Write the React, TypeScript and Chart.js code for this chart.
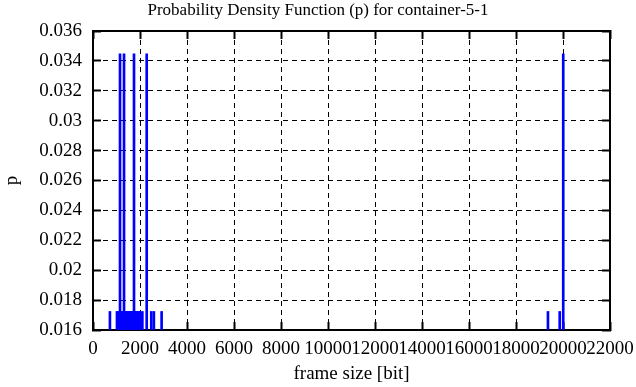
import { useEffect, useRef } from 'react';
import { Chart, registerables } from 'chart.js';

Chart.register(...registerables);

const titleText = 'Probability Density Function (p) for container-5-1';
const xAxisTitle = 'frame size [bit]';
const yAxisTitle = 'p';

const xTicks = [0, 2000, 4000, 6000, 8000, 10000, 12000, 14000, 16000, 18000, 20000, 22000];
const xTickLabels = ['0', '2000', '4000', '6000', '8000', '10000', '12000', '14000', '16000', '18000', '20000', '22000'];
const yTicks = [0.016, 0.018, 0.02, 0.022, 0.024, 0.026, 0.028, 0.03, 0.032, 0.034, 0.036];
const yTickLabels = ['0.016', '0.018', '0.02', '0.022', '0.024', '0.026', '0.028', '0.03', '0.032', '0.034', '0.036'];

// frame sizes (bit) and their probability density values (impulses)
const frameSizes = [
  720, 1020, 1060, 1100, 1150, 1180, 1220, 1260, 1320, 1360, 1400, 1440, 1480, 1520, 1560,
  1600, 1640, 1680, 1745, 1780, 1820, 1860, 1900, 1950, 1985, 2100, 2285, 2480, 2590, 2920,
  19360, 19860, 20010,
];
const pValues = [
  0.01724, 0.01724, 0.01724, 0.01724, 0.03448, 0.01724, 0.01724, 0.01724, 0.03448, 0.01724,
  0.01724, 0.01724, 0.01724, 0.01724, 0.01724, 0.01724, 0.01724, 0.01724, 0.03448, 0.01724,
  0.01724, 0.01724, 0.01724, 0.01724, 0.01724, 0.01724, 0.03448, 0.01724, 0.01724, 0.01724,
  0.01724, 0.01724, 0.03448,
];

const X_MIN = 0;
const X_MAX = 22000;
const Y_MIN = 0.016;
const Y_MAX = 0.036;

export default function App() {
  const ref = useRef<HTMLCanvasElement>(null);

  useEffect(() => {
    document.body.style.margin = '0';
    const family = "'Liberation Serif', 'Times New Roman', 'DejaVu Serif', serif";
    const font = { family, size: 19, weight: 'normal' as const };
    const black = '#000000';

    const setXTicks = (s: any) => {
      s.ticks = xTicks.map((v) => ({ value: v }));
    };
    const setYTicks = (s: any) => {
      s.ticks = yTicks.map((v) => ({ value: v }));
    };
    const noPad = (s: any) => {
      s.paddingLeft = 0;
      s.paddingRight = 0;
      s.paddingTop = 0;
      s.paddingBottom = 0;
    };

    const chart = new Chart(ref.current as HTMLCanvasElement, {
      type: 'bar',
      data: {
        datasets: [
          {
            data: frameSizes.map((x, i) => ({ x, y: pValues[i] })),
            backgroundColor: '#0000ff',
            borderWidth: 0,
            barThickness: 2,
            base: Y_MIN,
          } as any,
        ],
      },
      options: {
        animation: false,
        responsive: false,
        events: [],
        layout: { padding: 0 },
        plugins: {
          legend: { display: false },
          tooltip: { enabled: false },
          title: {
            display: true,
            text: titleText,
            color: black,
            font: { family, size: 17, weight: 'normal' },
            padding: { top: 0, bottom: 10.6 },
          },
        },
        scales: {
          x: {
            type: 'linear',
            position: 'bottom',
            min: X_MIN,
            max: X_MAX,
            offset: false,
            afterBuildTicks: setXTicks,
            afterFit: (s: any) => {
              s.height = 57;
              noPad(s);
            },
            ticks: {
              callback: (_v: any, i: number) => xTickLabels[i],
              color: black,
              font,
              padding: 16,
              maxRotation: 0,
              autoSkip: false,
            },
            grid: {
              color: black,
              lineWidth: 1,
              offset: false,
              drawTicks: true,
              tickLength: -8,
              tickWidth: 2,
              tickColor: black,
            },
            border: { display: true, color: black, width: 2, dash: [5, 4] },
            title: { display: true, text: xAxisTitle, color: black, font, padding: { top: 0, bottom: 2 } },
          },
          x2: {
            type: 'linear',
            position: 'top',
            min: X_MIN,
            max: X_MAX,
            offset: false,
            afterBuildTicks: setXTicks,
            afterFit: (s: any) => {
              s.height = 0;
              noPad(s);
            },
            ticks: { display: false },
            grid: {
              offset: false,
              drawOnChartArea: false,
              drawTicks: true,
              tickLength: -8,
              tickWidth: 2,
              tickColor: black,
            },
            border: { display: true, color: black, width: 2 },
          },
          y: {
            type: 'linear',
            position: 'left',
            min: Y_MIN,
            max: Y_MAX,
            beginAtZero: false,
            afterBuildTicks: setYTicks,
            afterFit: (s: any) => {
              s.width = 93;
              noPad(s);
            },
            ticks: {
              callback: (_v: any, i: number) => yTickLabels[i],
              color: black,
              font,
              padding: 19,
              autoSkip: false,
            },
            grid: {
              color: black,
              lineWidth: 1,
              drawTicks: true,
              tickLength: -8,
              tickWidth: 2,
              tickColor: black,
            },
            border: { display: true, color: black, width: 2, dash: [5, 4] },
            title: { display: true, text: yAxisTitle, color: black, font, padding: { top: 1, bottom: 0 } },
          },
          y2: {
            type: 'linear',
            position: 'right',
            min: Y_MIN,
            max: Y_MAX,
            beginAtZero: false,
            afterBuildTicks: setYTicks,
            afterFit: (s: any) => {
              s.width = 26;
              noPad(s);
            },
            ticks: { display: false },
            grid: {
              drawOnChartArea: false,
              drawTicks: true,
              tickLength: -8,
              tickWidth: 2,
              tickColor: black,
            },
            border: { display: true, color: black, width: 2 },
          },
        },
      } as any,
    });

    return () => chart.destroy();
  }, []);

  return <canvas ref={ref} width={636} height={387} style={{ display: 'block' }} />;
}
